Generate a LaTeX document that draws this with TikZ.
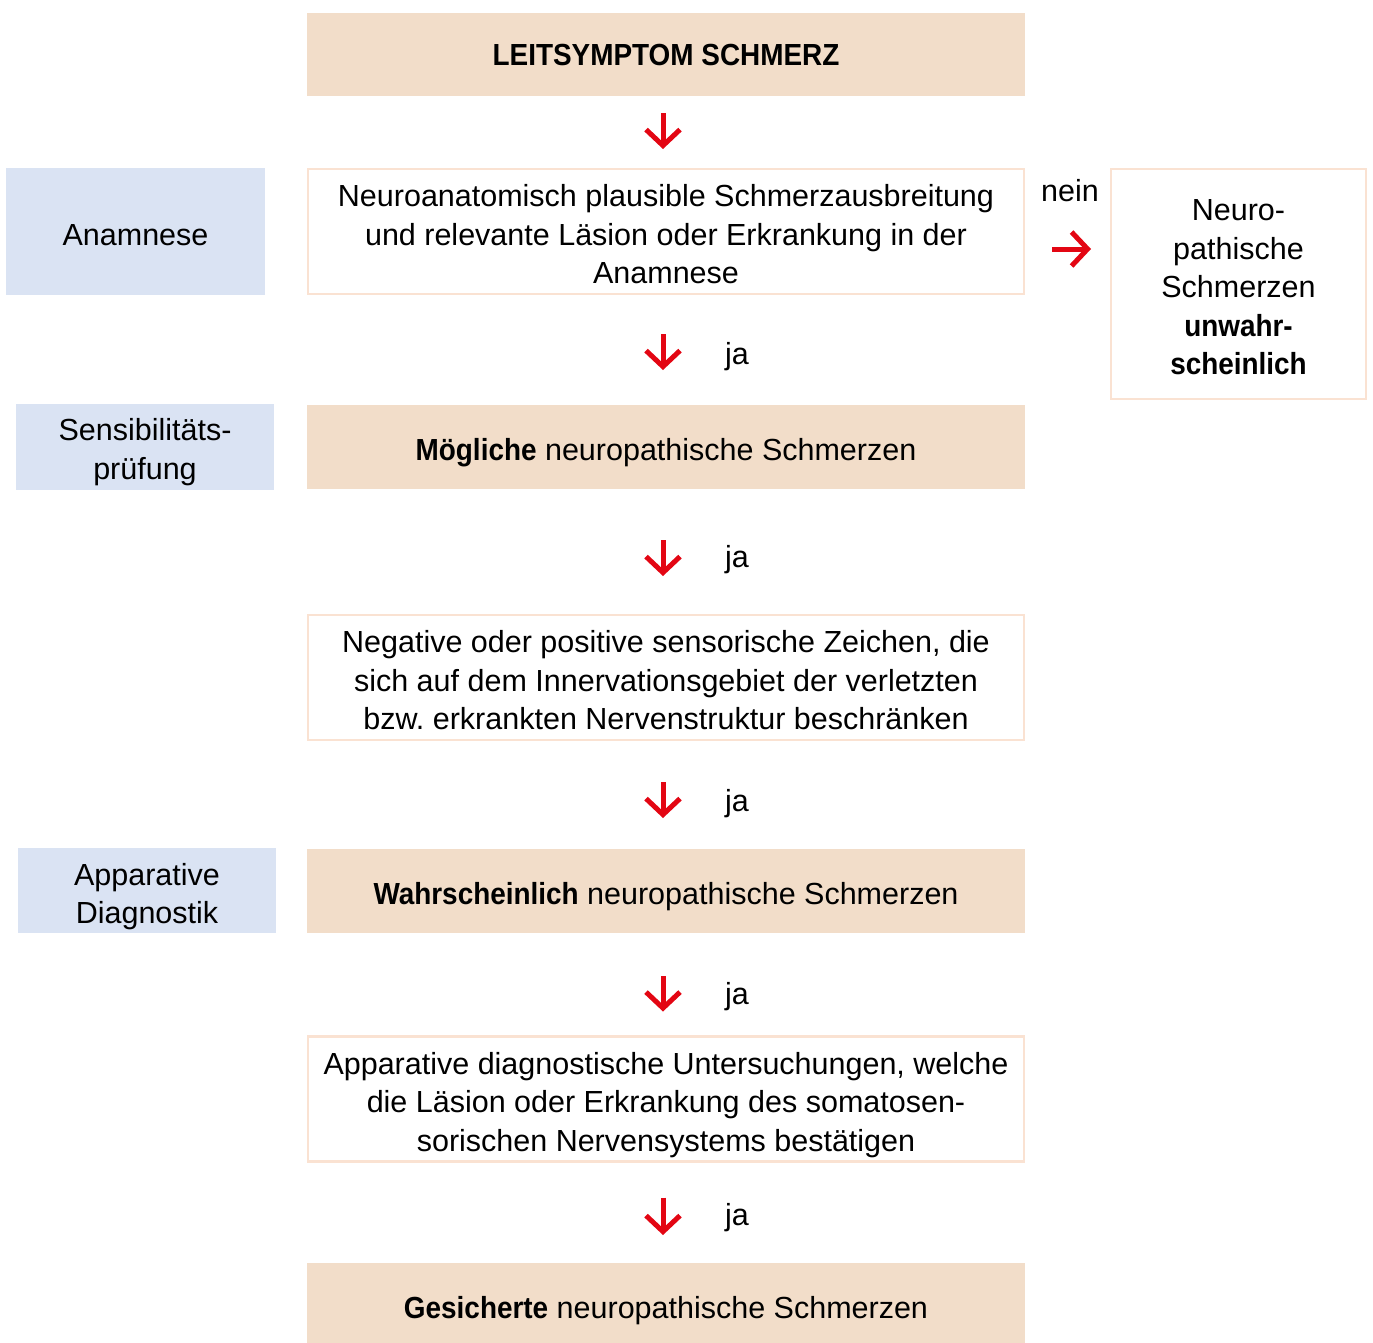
\documentclass[tikz,border=0pt]{standalone}
\usepackage{fontspec}
\setmainfont[FakeStretch=1.0, BoldFeatures={FakeStretch=0.915}]{Liberation Sans}
\usetikzlibrary{arrows.meta}
\definecolor{tanfill}{RGB}{242,221,201}
\definecolor{bluefill}{RGB}{218,227,243}
\definecolor{tanline}{RGB}{250,226,210}
\definecolor{arrred}{RGB}{227,6,19}
\frenchspacing
\begin{document}
\begin{tikzpicture}[x=1pt,y=-1pt,
  every node/.style={font=\fontsize{30.5}{38.5}\selectfont, inner sep=0pt, outer sep=0pt, align=center},
  tanbox/.style={fill=tanfill, minimum width=718pt, minimum height=84pt, text height=31pt, text depth=4.1pt},
  whitebox/.style={draw=tanline, line width=2.5pt, fill=white, minimum width=716pt, minimum height=125pt, text height=104.3pt, text depth=0pt},
  sidebox/.style={fill=bluefill, minimum width=259pt},
  redarr/.style={draw=arrred, line width=5pt, -{Straight Barb[length=16pt,width=34pt]}}
]
\useasboundingbox (0,0) rectangle (1373,1342);

\node[fill=tanfill, minimum width=718pt, minimum height=83pt] (top) at (666,54.5) {\textbf{LEITSYMPTOM SCHMERZ}};
\node[whitebox] (anam) at (666,231.5) {Neuroanatomisch plausible Schmerzausbreitung\\und relevante Läsion oder Erkrankung in der\\Anamnese};
\node[sidebox, minimum height=127pt, text height=28pt, text depth=0pt] (sAnam) at (135.5,231.5) {Anamnese};
\node[whitebox, minimum width=255pt, minimum height=230pt, text height=181.3pt, text depth=0pt] (nein) at (1238.5,284) {Neuro-\\pathische\\Schmerzen\\\textbf{unwahr-}\\\textbf{scheinlich}};
\node[tanbox] (moeg) at (666,447) {\textbf{Mögliche} neuropathische Schmerzen};
\node[sidebox, minimum width=258pt, minimum height=86pt, text height=64.4pt, text depth=0pt] (sSens) at (145,447) {Sensibilitäts-\\prüfung};
\node[whitebox] (neg) at (666,677.5) {Negative oder positive sensorische Zeichen, die\\sich auf dem Innervationsgebiet der verletzten\\bzw. erkrankten Nervenstruktur beschränken};
\node[tanbox] (wahr) at (666,891) {\textbf{Wahrscheinlich} neuropathische Schmerzen};
\node[sidebox, minimum width=258pt, minimum height=85pt, text height=66.4pt, text depth=0pt] (sApp) at (147,890.5) {Apparative\\Diagnostik};
\node[whitebox] (appU) at (666,1099) {Apparative diagnostische Untersuchungen, welche\\die Läsion oder Erkrankung des somatosen-\\sorischen Nervensystems bestätigen};
\node[tanbox, minimum height=85pt] (ges) at (666,1305.5) {\textbf{Gesicherte} neuropathische Schmerzen};

\draw[redarr, shorten <=17pt, shorten >=20pt] ([xshift=-3pt]top.south) -- ([xshift=-3pt]anam.north);
\draw[redarr, shorten <=40pt, shorten >=35pt] ([xshift=-3pt]anam.south) -- ([xshift=-3pt]moeg.north);
\draw[redarr, shorten <=51pt, shorten >=39pt] ([xshift=-3pt]moeg.south) -- ([xshift=-3pt]neg.north);
\draw[redarr, shorten <=42pt, shorten >=31pt] ([xshift=-3pt]neg.south) -- ([xshift=-3pt]wahr.north);
\draw[redarr, shorten <=43pt, shorten >=25pt] ([xshift=-3pt]wahr.south) -- ([xshift=-3pt]appU.north);
\draw[redarr, shorten <=36pt, shorten >=28pt] ([xshift=-3pt]appU.south) -- ([xshift=-3pt]ges.north);

\coordinate (ny) at (0,249);
\draw[redarr, shorten <=28pt, shorten >=20pt] (anam.east |- ny) -- (nein.west |- ny);
\node (neinlbl) at (1070,191) {nein};

\node (ja1) at (737,357) {ja};
\node (ja2) at (737,560) {ja};
\node (ja3) at (737,804) {ja};
\node (ja4) at (737,997) {ja};
\node (ja5) at (737,1218) {ja};
\end{tikzpicture}
\end{document}
